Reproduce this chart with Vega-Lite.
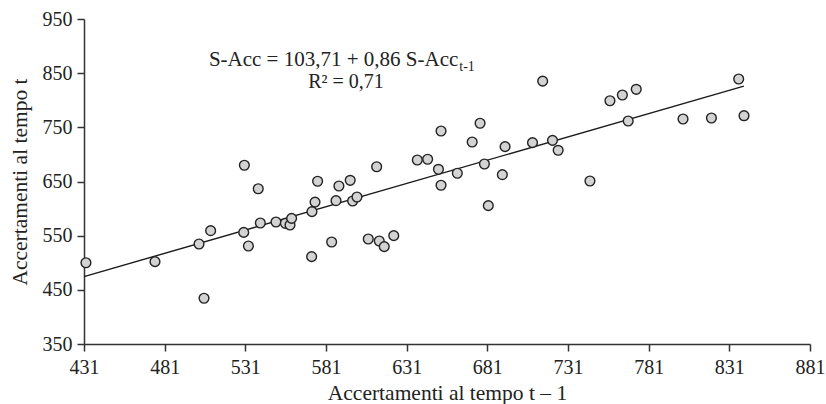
{
  "$schema": "https://vega.github.io/schema/vega-lite/v6.json",
  "width": 726,
  "height": 325,
  "autosize": {"type": "none"},
  "padding": {"left": 84, "top": 19, "right": 16, "bottom": 60},
  "background": "white",
  "config": {
    "view": {"stroke": null},
    "font": "Liberation Serif",
    "axis": {
      "grid": false,
      "domainColor": "#333333",
      "domainWidth": 1.5,
      "tickColor": "#333333",
      "tickWidth": 1.5,
      "tickSize": 7,
      "labelFont": "Liberation Serif",
      "labelFontSize": 20,
      "labelColor": "#222222",
      "titleFont": "Liberation Serif",
      "titleFontSize": 21.5,
      "titleFontWeight": "normal",
      "titleColor": "#222222"
    }
  },
  "datasets": {
    "points": [
      {"x": 432.2, "y": 500.0},
      {"x": 475.0, "y": 502.0},
      {"x": 502.3, "y": 534.6},
      {"x": 505.4, "y": 434.4},
      {"x": 509.5, "y": 559.2},
      {"x": 530.0, "y": 556.0},
      {"x": 530.4, "y": 680.0},
      {"x": 532.9, "y": 531.0},
      {"x": 539.0, "y": 636.7},
      {"x": 540.3, "y": 573.4},
      {"x": 550.0, "y": 575.3},
      {"x": 555.8, "y": 572.8},
      {"x": 558.7, "y": 569.7},
      {"x": 559.7, "y": 582.0},
      {"x": 572.1, "y": 511.3},
      {"x": 572.3, "y": 594.3},
      {"x": 574.2, "y": 612.0},
      {"x": 575.8, "y": 650.4},
      {"x": 584.5, "y": 538.3},
      {"x": 587.2, "y": 614.6},
      {"x": 589.0, "y": 641.7},
      {"x": 596.0, "y": 652.2},
      {"x": 597.5, "y": 614.0},
      {"x": 600.2, "y": 621.4},
      {"x": 607.2, "y": 543.9},
      {"x": 612.4, "y": 677.3},
      {"x": 614.0, "y": 540.2},
      {"x": 617.1, "y": 529.7},
      {"x": 623.0, "y": 550.0},
      {"x": 637.6, "y": 689.7},
      {"x": 644.0, "y": 691.0},
      {"x": 650.7, "y": 672.5},
      {"x": 652.3, "y": 743.2},
      {"x": 652.3, "y": 643.0},
      {"x": 662.4, "y": 665.2},
      {"x": 671.6, "y": 723.0},
      {"x": 676.5, "y": 757.5},
      {"x": 679.2, "y": 682.3},
      {"x": 681.6, "y": 605.4},
      {"x": 690.3, "y": 662.6},
      {"x": 692.0, "y": 714.3},
      {"x": 709.0, "y": 721.7},
      {"x": 715.3, "y": 835.3},
      {"x": 721.4, "y": 726.0},
      {"x": 724.9, "y": 707.6},
      {"x": 744.6, "y": 650.9},
      {"x": 757.0, "y": 799.0},
      {"x": 764.7, "y": 809.7},
      {"x": 768.3, "y": 761.7},
      {"x": 773.3, "y": 820.2},
      {"x": 802.3, "y": 765.4},
      {"x": 819.9, "y": 767.2},
      {"x": 836.8, "y": 839.2},
      {"x": 840.1, "y": 771.5}
    ],
    "fit": [
      {"x": 431, "y": 474.4},
      {"x": 840, "y": 826.1}
    ],
    "eqmain": [{"x": 663, "y": 864, "label": "S-Acc = 103,71 + 0,86 S-Acc"}],
    "eqsub": [{"x": 663, "y": 864, "label": "t-1"}],
    "r2": [{"x": 593.4, "y": 823, "label": "R² = 0,71"}]
  },
  "encoding": {
    "x": {
      "field": "x",
      "type": "quantitative",
      "scale": {"domain": [431, 881], "nice": false, "zero": false},
      "axis": {
        "title": "Accertamenti al tempo t – 1",
        "values": [431, 481, 531, 581, 631, 681, 731, 781, 831, 881],
        "labelFlush": false,
        "labelPadding": 6,
        "titlePadding": 5
      }
    },
    "y": {
      "field": "y",
      "type": "quantitative",
      "scale": {"domain": [350, 950], "nice": false, "zero": false},
      "axis": {
        "title": "Accertamenti al tempo t",
        "values": [350, 450, 550, 650, 750, 850, 950],
        "labelFlush": false,
        "labelPadding": 5,
        "titlePadding": 11
      }
    }
  },
  "layer": [
    {
      "data": {"name": "fit"},
      "mark": {"type": "line", "color": "#1a1a1a", "strokeWidth": 1.4}
    },
    {
      "data": {"name": "points"},
      "mark": {"type": "point", "shape": "circle", "filled": true, "fill": "#d3d3d3", "stroke": "#222222", "strokeWidth": 1.4, "size": 95, "opacity": 1}
    },
    {
      "data": {"name": "eqmain"},
      "mark": {"type": "text", "align": "right", "baseline": "alphabetic", "fontSize": 21, "color": "#222222", "font": "Liberation Serif"},
      "encoding": {"text": {"field": "label"}}
    },
    {
      "data": {"name": "eqsub"},
      "mark": {"type": "text", "align": "left", "baseline": "alphabetic", "fontSize": 14, "dx": 1, "dy": 5, "color": "#222222", "font": "Liberation Serif"},
      "encoding": {"text": {"field": "label"}}
    },
    {
      "data": {"name": "r2"},
      "mark": {"type": "text", "align": "center", "baseline": "alphabetic", "fontSize": 20, "color": "#222222", "font": "Liberation Serif"},
      "encoding": {"text": {"field": "label"}}
    }
  ]
}
